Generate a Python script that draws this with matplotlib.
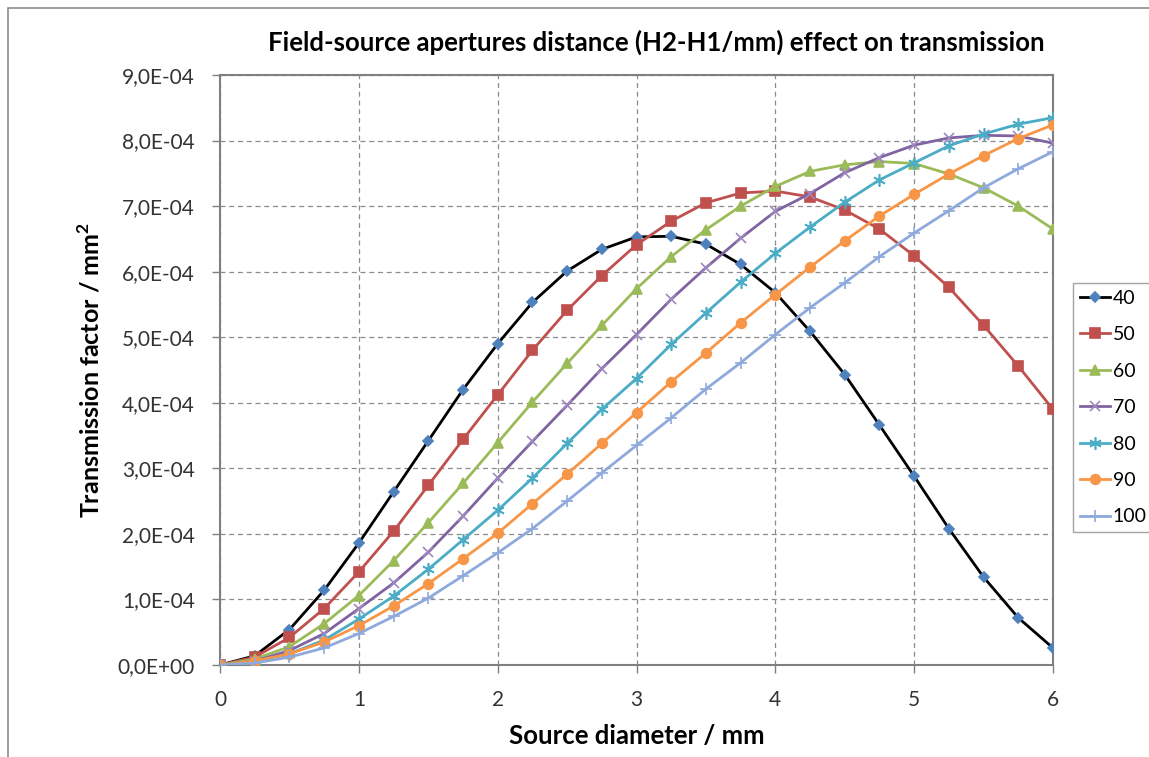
import matplotlib
matplotlib.use('Agg')
import matplotlib.pyplot as plt
from matplotlib.patches import Rectangle
from matplotlib.ticker import MultipleLocator, FuncFormatter

plt.rcParams['font.family'] = ['Lato', 'DejaVu Sans']

# source diameter / mm
diameter = [0, 0.25, 0.5, 0.75, 1, 1.25, 1.5, 1.75, 2, 2.25, 2.5, 2.75, 3,
            3.25, 3.5, 3.75, 4, 4.25, 4.5, 4.75, 5, 5.25, 5.5, 5.75, 6]

# transmission factor, in units of 1e-4 mm^2, one list per H2-H1 distance
t40 = [0, 0.14, 0.54, 1.14, 1.86, 2.64, 3.42, 4.20, 4.90, 5.53, 6.01, 6.34, 6.53,
       6.54, 6.42, 6.11, 5.68, 5.09, 4.43, 3.66, 2.88, 2.08, 1.34, 0.72, 0.26]
t50 = [0, 0.12, 0.42, 0.86, 1.42, 2.04, 2.74, 3.44, 4.12, 4.80, 5.41, 5.94, 6.41,
       6.77, 7.05, 7.20, 7.23, 7.14, 6.94, 6.65, 6.24, 5.76, 5.18, 4.56, 3.90]
t60 = [0, 0.09, 0.28, 0.63, 1.06, 1.59, 2.17, 2.77, 3.39, 4.01, 4.60, 5.18, 5.74,
       6.23, 6.64, 7.00, 7.30, 7.53, 7.63, 7.68, 7.65, 7.49, 7.28, 7.00, 6.65]
t70 = [0, 0.06, 0.22, 0.48, 0.86, 1.25, 1.72, 2.27, 2.85, 3.41, 3.96, 4.52, 5.04,
       5.58, 6.06, 6.51, 6.92, 7.19, 7.51, 7.74, 7.93, 8.04, 8.08, 8.07, 7.96]
t80 = [0, 0.05, 0.17, 0.38, 0.70, 1.05, 1.46, 1.91, 2.36, 2.85, 3.38, 3.90, 4.37,
       4.89, 5.37, 5.84, 6.28, 6.68, 7.06, 7.40, 7.66, 7.92, 8.10, 8.25, 8.35]
t90 = [0, 0.06, 0.17, 0.35, 0.60, 0.90, 1.24, 1.62, 2.01, 2.46, 2.91, 3.38, 3.85,
       4.32, 4.76, 5.22, 5.65, 6.07, 6.47, 6.85, 7.18, 7.49, 7.77, 8.03, 8.24]
t100 = [0, 0.03, 0.12, 0.26, 0.48, 0.74, 1.02, 1.36, 1.71, 2.08, 2.50, 2.93, 3.35,
        3.77, 4.21, 4.61, 5.04, 5.45, 5.83, 6.23, 6.59, 6.93, 7.28, 7.57, 7.83]

labels = ['40', '50', '60', '70', '80', '90', '100']
series = [t40, t50, t60, t70, t80, t90, t100]

# style per series: line colour, marker, marker colour, marker size
styles = [
    ('black', 'D', '#4F81BD', 5),
    ('#C0504D', 's', '#C0504D', 7),
    ('#9BBB59', '^', '#9BBB59', 7),
    ('#8064A2', 'x', '#9E88C0', 7),
    ('#4BACC6', (6, 2, 0), '#4BACC6', 9),
    ('#F79646', 'o', '#F79646', 7),
    ('#8EA9DB', '+', '#8EA9DB', 9),
]

W, H = 1149, 757
fig = plt.figure(figsize=(W / 100, H / 100), dpi=100)
ax = fig.add_axes([220 / W, 1 - 665 / H, (1053 - 220) / W, (665 - 75) / H])

for vals, lab, (lc, mk, mc, ms) in zip(series, labels, styles):
    y = [v * 1e-4 for v in vals]
    ax.plot(diameter, y, color=lc, lw=2, marker=mk, markersize=ms,
            markerfacecolor=mc, markeredgecolor=mc, markeredgewidth=1.2,
            label=lab, zorder=3)

ax.set_xlim(0, 6)
ax.set_ylim(0, 9e-4)
ax.xaxis.set_major_locator(MultipleLocator(1))
ax.yaxis.set_major_locator(MultipleLocator(1e-4))
ax.yaxis.set_major_formatter(FuncFormatter(lambda v, p: f'{v:.1E}'.replace('.', ',')))

ax.grid(True, color='#8c8c8c', lw=0.9, ls=(0, (4, 3)), zorder=1)
for s in ax.spines.values():
    s.set_color('#7f7f7f')
    s.set_linewidth(1.5)
ax.tick_params(direction='out', length=6, width=1, color='#7f7f7f',
               labelsize=15, labelcolor='#333333', pad=12)
ax.tick_params(axis='x', pad=12)

ax.set_xlabel('Source diameter / mm', fontsize=18.5, fontweight='bold', labelpad=10)
ax.set_ylabel('Transmission factor / mm$^\\mathregular{2}$', fontsize=18,
              fontweight='bold', labelpad=10)
fig.text(656 / W, 1 - 42 / H,
         'Field-source apertures distance (H2-H1/mm) effect on transmission',
         ha='center', va='center', fontsize=18.5, fontweight='bold')

leg = fig.legend(loc='upper left', bbox_to_anchor=(1073 / W, 1 - 283 / H),
                 borderaxespad=0, fontsize=14, frameon=True, fancybox=False,
                 labelspacing=1.0, handlelength=1.55, handletextpad=0.15,
                 borderpad=0.35)
leg.get_frame().set_edgecolor('#8c8c8c')
leg.get_frame().set_linewidth(1)

# outer chart border
fig.patches.append(Rectangle((8 / W, -0.1), 1.2, 1.1 - 8 / H,
                             transform=fig.transFigure, fill=False,
                             edgecolor='#8c8c8c', lw=1.2))

fig.savefig('out.png', dpi=100)
